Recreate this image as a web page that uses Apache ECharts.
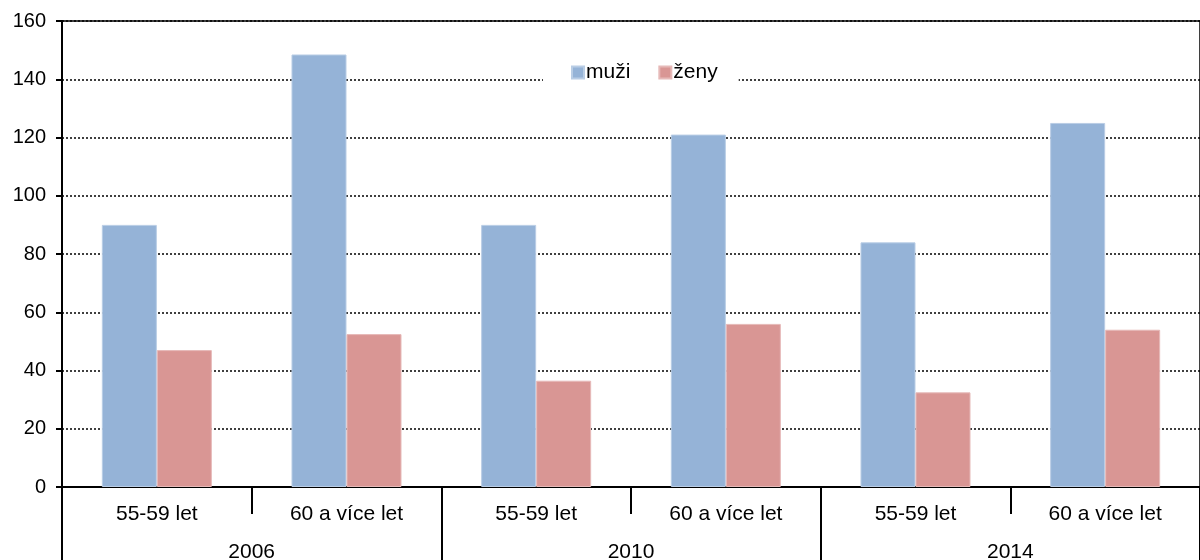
<!DOCTYPE html>
<html>
<head>
<meta charset="utf-8">
<script src="https://cdn.jsdelivr.net/npm/echarts@6/dist/echarts.min.js"></script>
<style>html,body{margin:0;padding:0;background:#fff}#c{width:1200px;height:560px}</style>
</head>
<body>
<div id="c"></div>
<script>
const ageGroups = ['55-59 let', '60 a více let', '55-59 let', '60 a více let', '55-59 let', '60 a více let'];
const years = ['2006', '2010', '2014'];
const seriesNames = ['muži', 'ženy'];
const muzi = [90, 148.5, 90, 121, 84, 125];
const zeny = [47, 52.5, 36.5, 56, 32.5, 54];
const yTicks = { min: 0, max: 160, interval: 20 };

const font = 'Liberation Sans, Arial, sans-serif';
const chart = echarts.init(document.getElementById('c'));
chart.setOption({
  animation: false,
  backgroundColor: '#fff',
  grid: { left: 62, right: 0, top: 21, bottom: 73, show: true, borderColor: '#000', borderWidth: 1.5,
          containLabel: false, outerBoundsMode: 'none' },
  legend: {
    data: seriesNames,
    left: 543, top: 59,
    padding: [3, 21, 3, 28],
    backgroundColor: '#fff',
    itemWidth: 12, itemHeight: 12, itemGap: 28,
    icon: 'rect',
    textStyle: { fontFamily: font, fontSize: 21, color: '#000', padding: [0, 0, 0, -3] }
  },
  xAxis: [
    {
      type: 'category', data: ageGroups, position: 'bottom',
      axisLine: { lineStyle: { color: '#000', width: 2 } },
      axisTick: { show: true, length: 27, lineStyle: { color: '#000', width: 2 } },
      axisLabel: { fontFamily: font, fontSize: 21, color: '#000', margin: 17 },
      splitLine: { show: false }
    },
    {
      type: 'category', data: years, position: 'bottom',
      axisLine: { show: false },
      axisTick: { show: true, length: 80, lineStyle: { color: '#000', width: 2 } },
      axisLabel: { fontFamily: font, fontSize: 21, color: '#000', margin: 55 },
      splitLine: { show: false }
    }
  ],
  yAxis: {
    type: 'value', min: yTicks.min, max: yTicks.max, interval: yTicks.interval,
    axisLine: { show: true, lineStyle: { color: '#000', width: 2 } },
    axisTick: { show: true, length: 6, lineStyle: { color: '#000', width: 2 } },
    axisLabel: { fontFamily: font, fontSize: 20, color: '#000', margin: 16 },
    splitLine: { show: true, lineStyle: { color: '#000', width: 1.5, type: [2, 2] } }
  },
  series: [
    { name: seriesNames[0], type: 'bar', xAxisIndex: 0, data: muzi, barGap: '0%', barCategoryGap: '42%',
      itemStyle: { color: '#95B3D7', borderColor: '#B9CDE5', borderWidth: 1 } },
    { name: seriesNames[1], type: 'bar', xAxisIndex: 0, data: zeny, barGap: '0%', barCategoryGap: '42%',
      itemStyle: { color: '#D99694', borderColor: '#E6B9B8', borderWidth: 1 } }
  ]
});
</script>
</body>
</html>
